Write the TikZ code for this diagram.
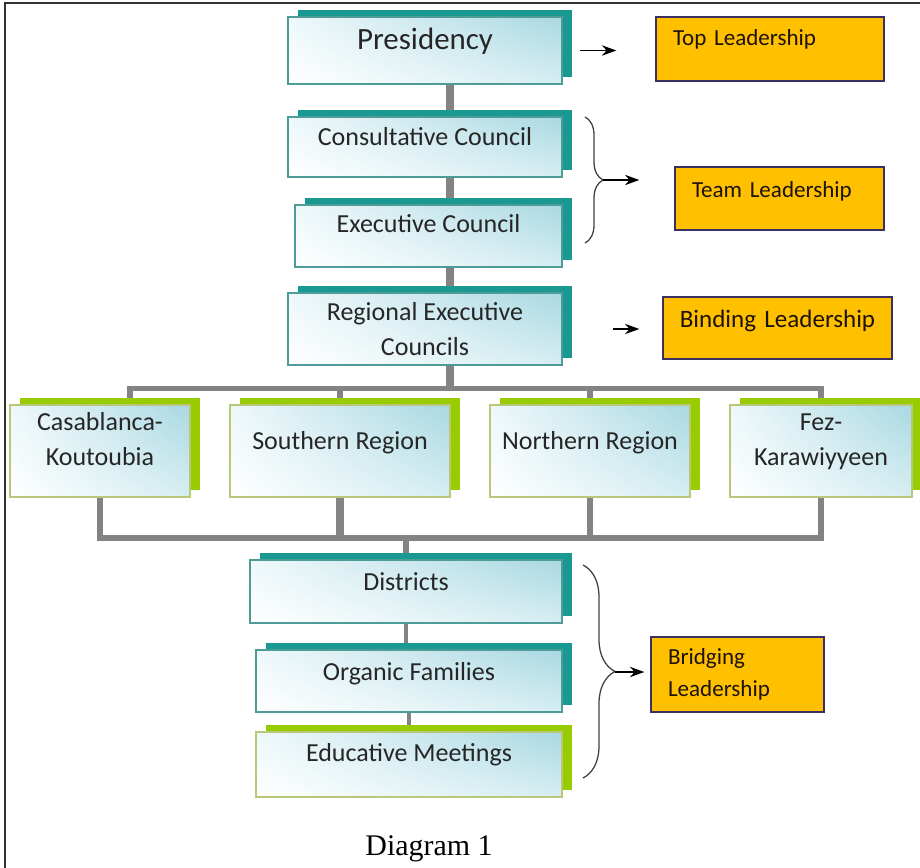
\documentclass[tikz,border=0pt]{standalone}
\usepackage{fontspec}
\setmainfont{Carlito}
\newfontfamily\captionfont{Liberation Serif}
\usepackage{xcolor}
\usepackage{tikz}
\usetikzlibrary{
  arrows.meta, positioning, calc, shadows, shadings,
  backgrounds, decorations.pathreplacing
}

\definecolor{plateteal}{HTML}{1A9892}
\definecolor{plategreen}{HTML}{99CC00}
\definecolor{edgeteal}{HTML}{4E9C98}
\definecolor{edgegreen}{HTML}{B9C878}
\definecolor{shadeTL}{HTML}{EEF8FA}
\definecolor{shadeTR}{HTML}{A9D8E2}
\definecolor{shadeBR}{HTML}{D6EEF2}
\definecolor{leadfill}{HTML}{FFC000}
\definecolor{leadedge}{HTML}{3B3160}
\definecolor{linkgrey}{HTML}{838383}
\definecolor{inkgrey}{HTML}{262626}

\tikzset{
  %% Unit box with a coloured plate behind it
  unit/.style={
    rectangle, draw=edgeteal, line width=0.9pt,
    upper left=shadeTL, upper right=shadeTR,
    lower left=white, lower right=shadeBR,
    general shadow={fill=#1, shadow xshift=2.4mm, shadow yshift=1.7mm},
    text=inkgrey, font=\fontsize{18.5}{25}\selectfont,
    align=center, inner sep=0pt
  },
  unit/.default=plateteal,
  %% Single-line text sits in the upper part of a unit
  oneline/.style={text height=4.5mm, text depth=5.4mm},
  %% Leadership label
  lead/.style={
    rectangle, draw=leadedge, fill=leadfill, line width=1pt,
    text=black!85!brown, font=\fontsize{16.4}{22.8}\selectfont,
    align=left, inner xsep=4.25mm, inner ysep=0pt,
    text height=4mm
  },
  %% Connectors
  link/.style={draw=linkgrey, line width=5pt},
  buslink/.style={draw=linkgrey, line width=3.6pt},
  thinlink/.style={draw=linkgrey, line width=2.6pt},
  arr/.style={-{Stealth[length=3.6mm,width=2.6mm]},
              draw=black, line width=0.9pt},
  curly/.style={decorate, decoration={brace, amplitude=#1},
                draw=black!75, line width=0.9pt},
}

\begin{document}
\begin{tikzpicture}[x=0.25mm, y=-0.25mm]
  \useasboundingbox (0,0) rectangle (920,868);
  \draw[line width=1.4pt, black!80] (920,3) -- (5,3) -- (5,868);

  %% Main chain
  \node[unit, oneline, minimum width=68.5mm, minimum height=16.75mm,
        font=\fontsize{22}{26}\selectfont, text height=5.5mm, text depth=5.75mm]
       (pres) at (425,50.5) {Presidency};
  \node[unit, oneline, minimum width=68.5mm, minimum height=15mm]
       (cons) at (425,147) {Consultative Council};
  \node[unit, oneline, minimum width=66.75mm, minimum height=15.5mm, text depth=6mm]
       (exec) at (428.5,236) {Executive Council};
  \node[unit, minimum width=68.5mm, minimum height=18mm]
       (regec) at (425,329) {Regional Executive\\Councils};

  %% Regions
  \node[unit=plategreen, draw=edgegreen, minimum width=45mm, minimum height=23mm]
       (casa) at (100,451) {Casablanca-\\Koutoubia\\[-8pt]\mbox{}};
  \node[unit=plategreen, draw=edgegreen, oneline, minimum width=55mm, minimum height=23mm]
       (south) at (340,451) {Southern Region};
  \node[unit=plategreen, draw=edgegreen, oneline, minimum width=50mm, minimum height=23mm]
       (north) at (590,451) {Northern Region};
  \node[unit=plategreen, draw=edgegreen, minimum width=45.5mm, minimum height=23mm]
       (fez) at (821,451) {Fez-\\Karawiyyeen\\[-9pt]\mbox{}};

  %% Local levels
  \node[unit, oneline, minimum width=78mm, minimum height=15.75mm, text depth=5mm]
       (dist) at (406,591.5) {Districts};
  \node[unit, oneline, minimum width=76.5mm, minimum height=15.5mm, text depth=5mm]
       (orgf) at (409,681) {Organic Families};
  \node[unit=plategreen, draw=edgegreen, oneline, minimum width=76.5mm,
        minimum height=16.25mm, text depth=5.9mm]
       (educ) at (409,764.5) {Educative Meetings};

  %% Leadership labels
  \node[lead, text width=48.5mm, minimum height=16mm, text depth=5.8mm]
       (toplead) at (770,49) {Top Leadership};
  \node[lead, text width=43.75mm, minimum height=15.75mm, text depth=4.55mm]
       (teamlead) at (779.5,198.5) {Team Leadership};
  \node[lead, text width=53.25mm, inner xsep=2mm, minimum height=15.5mm,
        text depth=4mm, align=center, font=\fontsize{17.8}{22}\selectfont]
       (bindlead) at (777.5,328) {Binding Leadership};
  \node[lead, text width=34.75mm, minimum height=18.75mm,
        text height={}, text depth={}]
       (bridlead) at (737.5,674.5) {Bridging\\Leadership};

  %% Connectors
  \begin{scope}[on background layer]
    \coordinate (spine) at (450,0);
    \draw[link] (pres.south -| spine) -- (cons.north -| spine);
    \draw[link] (cons.south -| spine) -- (exec.north -| spine);
    \draw[link] (exec.south -| spine) -- (regec.north -| spine);
    \draw[link] (regec.south -| spine) -- ++(0,23) coordinate (busT);
    \draw[buslink] ([xshift=7.5mm]casa.north) |- (busT) -| (fez.north);
    \draw[buslink] (south.north) -- (south.north |- busT);
    \draw[buslink] (north.north) -- (north.north |- busT);

    \coordinate (busB) at (dist.north |- 0,538);
    \draw[buslink] (casa.south) |- (busB) -| (fez.south);
    \draw[link] (south.south) -- (south.south |- busB);
    \draw[buslink] (north.south) -- (north.south |- busB);
    \draw[buslink] (busB) -- (dist.north);
    \draw[thinlink] (dist.south) -- (dist.south |- orgf.north);
    \draw[thinlink] (orgf.south) -- (orgf.south |- educ.north);
  \end{scope}

  %% Braces and arrows
  \coordinate (b1top) at (585,117);
  \coordinate (b1bot) at (585,243);
  \coordinate (tip1) at (603,180);
  \draw[curly=4.5mm] (b1top) -- (b1bot);
  \coordinate (b2top) at (583,565);
  \coordinate (b2bot) at (583,778);
  \coordinate (tip2) at (615,672);
  \draw[curly=8mm] (b2top) -- (b2bot);

  \draw[arr, shorten <=4.25mm, shorten >=9.75mm] (pres.east) -- (pres.east -| toplead.west);
  \draw[arr, shorten >=8.75mm] (tip1) -- (tip1 -| teamlead.west);
  \draw[arr, shorten <=12.5mm, shorten >=5.75mm] (regec.east) -- (regec.east -| bindlead.west);
  \draw[arr, shorten >=1.5mm] (tip2) -- (tip2 -| bridlead.west);

  \node[font=\captionfont\fontsize{21.3}{26}\selectfont, anchor=base]
       (caption) at (429,855) {Diagram 1};

\end{tikzpicture}
\end{document}
